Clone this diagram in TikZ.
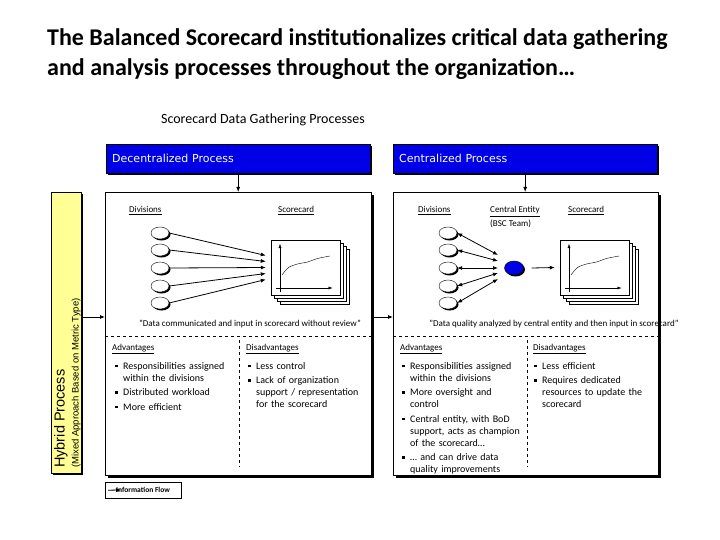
\documentclass[tikz,border=0pt]{standalone}
\usepackage{fontspec}
\setmainfont{Carlito}
\newfontfamily\headfont{DejaVu Sans}
\newfontfamily\hybfont{Liberation Sans}
\usepackage{tikz}
\usetikzlibrary{arrows.meta, shapes.geometric, shadows}
\definecolor{headblue}{RGB}{0,0,230}
\definecolor{hybridyellow}{RGB}{255,255,150}
\newcommand{\bitem}[1]{\par\hangindent=8pt\hangafter=1\noindent\makebox[8pt][l]{\raisebox{2pt}{\rule{2.4pt}{2.4pt}}}#1\par\vspace{2.5pt}}

\begin{document}
\begin{tikzpicture}[x=1pt, y=-1pt]
    % Define the styles
    \tikzstyle{header} = [draw, fill=headblue, text=white, font=\headfont\fontsize{11}{13}\selectfont, minimum width=264pt, minimum height=29pt, text width=252pt, align=left, inner sep=6pt, anchor=north west, drop shadow={shadow xshift=2pt, shadow yshift=-2pt, opacity=1, fill=black}]
    \tikzstyle{panel} = [draw, fill=white, minimum width=266pt, minimum height=283pt, anchor=north west, drop shadow={shadow xshift=2.5pt, shadow yshift=-2.5pt, opacity=1, fill=black}]
    \tikzstyle{division} = [draw, ellipse, fill=white, minimum width=18pt, minimum height=12pt, inner sep=0pt, drop shadow={shadow xshift=1.5pt, shadow yshift=-1.5pt, opacity=1, fill=black}]
    \tikzstyle{card} = [draw, fill=white, minimum width=69pt, minimum height=55pt, inner sep=0pt]
    \tikzstyle{smalltext} = [font=\fontsize{9}{10}\selectfont, inner sep=0pt]
    \tikzstyle{bullets} = [font=\fontsize{10}{12}\selectfont, inner sep=0pt, anchor=north west, text width=130pt, align=left]
    \tikzstyle{arrow} = [-{Latex[length=5pt, width=4pt]}, thick]
    \tikzstyle{darrow} = [{Latex[length=5pt, width=4pt]}-{Latex[length=5pt, width=4pt]}, thick]

    \useasboundingbox (0,0) rectangle (720,540);

    % Title and subtitle
    \node[anchor=north west, align=left, inner sep=0pt, font=\bfseries\fontsize{24}{30}\selectfont] (title) at (47,28) {The Balanced Scorecard institutionalizes critical data gathering\\and analysis processes throughout the organization…};
    \node[font=\fontsize{14}{16}\selectfont] (subtitle) at (263,120) {Scorecard Data Gathering Processes};

    % Hybrid process bar
    \node[draw, fill=hybridyellow, minimum width=30pt, minimum height=281pt, drop shadow={shadow xshift=2pt, shadow yshift=-2pt, opacity=1, fill=black}] (hybrid) at (66,332.5) {};
    \node[rotate=90, anchor=north west, align=left, inner sep=0pt] (hybridtext) at (54,468) {{\hybfont\fontsize{14.5}{15}\selectfont Hybrid Process}\\[2pt]{\hybfont\fontsize{9.5}{10}\selectfont (Mixed Approach Based on Metric Type)}};

    % Panels and headers
    \node[panel] (lpanel) at (105,192) {};
    \node[panel, minimum width=265pt] (rpanel) at (393,192) {};
    \node[header] (lhead) at (106,144) {Decentralized Process};
    \node[header] (rhead) at (393,144) {Centralized Process};
    \draw[arrow] (lhead.south) -- (lhead.south |- lpanel.north);
    \draw[arrow] (rhead.south) -- (rhead.south |- rpanel.north);

    % Flow between hybrid bar and panels
    \coordinate (flow) at (0,317);
    \draw[arrow] (hybrid.east |- flow) -- (lpanel.west |- flow);
    \draw[arrow] (lpanel.east |- flow) -- (rpanel.west |- flow);

    % Column titles
    \node[smalltext, anchor=base west] (ldivtitle) at (129,213) {\underline{Divisions}};
    \node[smalltext, anchor=base west] (lscoretitle) at (278,213) {\underline{Scorecard}};
    \node[smalltext, anchor=base west] (rdivtitle) at (418,213) {\underline{Divisions}};
    \node[smalltext, anchor=base west] (centraltitle) at (490,213) {\underline{Central Entity}};
    \node[smalltext, anchor=base west] (bsc) at (490,226) {(BSC Team)};
    \node[smalltext, anchor=base west] (rscoretitle) at (568,213) {\underline{Scorecard}};

    % Scorecard stacks
    \foreach \o in {3,2,1} {
        \node[card] (lcard\o) at ([shift={(3*\o,3*\o)}]305.5,267.5) {};
        \node[card] (rcard\o) at ([shift={(3*\o,3*\o)}]594.5,267.5) {};
    }
    \node[card] (lcard) at (305.5,267.5) {};
    \node[card] (rcard) at (594.5,267.5) {};
    \foreach \c in {lcard, rcard} {
        \draw[-{Latex[length=4pt, width=3pt]}] ([shift={(-25.5,24.5)}]\c.center) -- ([shift={(-25.5,-23.5)}]\c.center);
        \draw[-{Latex[length=4pt, width=3pt]}] ([shift={(-29.5,20.5)}]\c.center) -- ([shift={(27,20.5)}]\c.center);
        \draw[thin] plot[smooth] coordinates {([shift={(-23.5,7.5)}]\c.center) ([shift={(-17,0)}]\c.center) ([shift={(-8,-3.5)}]\c.center) ([shift={(2,-5.5)}]\c.center) ([shift={(12,-9)}]\c.center) ([shift={(24.5,-11.5)}]\c.center)};
    }

    % Divisions (decentralized)
    \foreach \i/\y/\dy in {1/233/-12, 2/250/-6, 3/268/0, 4/286/6, 5/303/12} {
        \node[division] (ldiv\i) at (160,\y) {};
        \draw[arrow] (ldiv\i.east) -- ([shift={(-5,\dy)}]lcard.west);
    }

    % Divisions and central entity (centralized)
    \node[division, fill=headblue, minimum width=19pt, minimum height=14pt] (central) at (514,268) {};
    \foreach \i/\y/\dy in {1/233/-13, 2/250/-7, 3/268/0, 4/286/5, 5/303/11} {
        \node[division] (rdiv\i) at (448,\y) {};
        \draw[darrow] (rdiv\i.east) -- ([shift={(-16,\dy)}]central.center);
    }
    \draw[arrow] ([xshift=8pt]central.east) -- ([xshift=-5pt]rcard.west);

    % Quotes
    \node[smalltext] (lquote) at (250,324) {"Data communicated and input in scorecard without review"};
    \node[smalltext] (rquote) at (554,324) {"Data quality analyzed by central entity and then input in scorecard"};

    % Dashed separators
    \draw[dashed] (105,336) -- (371,336);
    \draw[dashed] (393,336) -- (658,336);
    \draw[dashed] (239,340) -- (239,467);
    \draw[dashed] (527,340) -- (527,467);

    % Advantages / disadvantages
    \node[smalltext, anchor=base west] (ladv) at (112,350) {\underline{Advantages}};
    \node[smalltext, anchor=base west] (ldis) at (246,350) {\underline{Disadvantages}};
    \node[smalltext, anchor=base west] (radv) at (400,350) {\underline{Advantages}};
    \node[smalltext, anchor=base west] (rdis) at (533,350) {\underline{Disadvantages}};
    \node[bullets] (ladvlist) at (115,357) {\bitem{Responsibilities assigned\newline within the divisions}\bitem{Distributed workload}\bitem{More efficient}};
    \node[bullets] (ldislist) at (248,357) {\bitem{Less control}\bitem{Lack of organization\newline support / representation\newline for the scorecard}};
    \node[bullets] (radvlist) at (402,357) {\bitem{Responsibilities assigned\newline within the divisions}\bitem{More oversight and\newline control}\bitem{Central entity, with BoD\newline support, acts as champion\newline of the scorecard…}\bitem{… and can drive data\newline quality improvements}};
    \node[bullets] (rdislist) at (534,357) {\bitem{Less efficient}\bitem{Requires dedicated\newline resources to update the\newline scorecard}};

    % Legend
    \node[draw, minimum width=76pt, minimum height=16pt, anchor=north west] (legend) at (105,482) {};
    \node[smalltext, anchor=west, font=\bfseries\fontsize{7.5}{9}\selectfont] (legtext) at (116,490) {Information Flow};
    \draw[arrow] ([xshift=3pt]legend.west) -- ([xshift=5pt]legtext.west);
\end{tikzpicture}
\end{document}
